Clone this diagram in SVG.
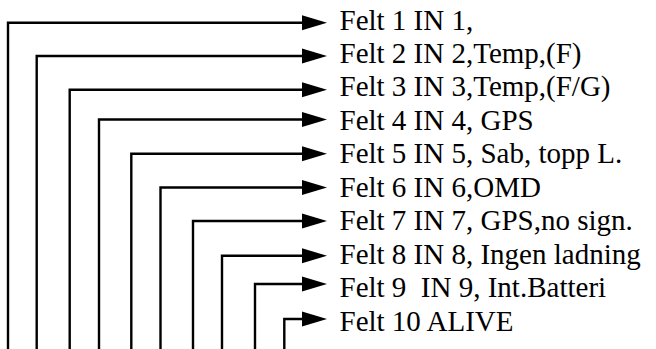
<svg xmlns="http://www.w3.org/2000/svg" width="656" height="349" viewBox="0 0 656 349">
<defs>
<marker id="ah" markerUnits="userSpaceOnUse" markerWidth="26" markerHeight="16" refX="0" refY="7.5" orient="auto" overflow="visible">
<path d="M0,0 L25,7.5 L0,15 Z" fill="#000"/>
</marker>
<style>
.c{fill:none;stroke:#000;stroke-width:2.4;stroke-linejoin:miter;marker-end:url(#ah)}
</style>
</defs>
<rect width="656" height="349" fill="#fff"/>
<g id="connectors">
<path class="c" d="M8,349 V22.7 H302"/>
<path class="c" d="M36.7,349 V56 H302"/>
<path class="c" d="M69.7,349 V89.8 H302"/>
<path class="c" d="M99,349 V119.5 H302"/>
<path class="c" d="M131.3,349 V153.7 H302"/>
<path class="c" d="M160.5,349 V187.5 H302"/>
<path class="c" d="M193,349 V221 H302"/>
<path class="c" d="M222,349 V255.7 H302"/>
<path class="c" d="M255,349 V284 H302"/>
<path class="c" d="M284.3,349 V319 H302"/>
</g>
<g id="labels" font-family="Liberation Serif, Times New Roman, serif" font-size="29" fill="#000">
<g id="felt1"><text x="339.5" y="29.5">Felt 1 IN 1,</text></g>
<g id="felt2"><text x="339.5" y="63">Felt 2 IN 2,Temp,(F)</text></g>
<g id="felt3"><text x="339.5" y="96.4">Felt 3 IN 3,Temp,(F/G)</text></g>
<g id="felt4"><text x="339.5" y="129.8">Felt 4 IN 4, GPS</text></g>
<g id="felt5"><text x="339.5" y="163.3">Felt 5 IN 5, Sab, topp L.</text></g>
<g id="felt6"><text x="339.5" y="196.7">Felt 6 IN 6,OMD</text></g>
<g id="felt7"><text x="339.5" y="230.2">Felt 7 IN 7, GPS,no sign.</text></g>
<g id="felt8"><text x="339.5" y="263.6">Felt 8 IN 8, Ingen ladning</text></g>
<g id="felt9"><text x="339.5" y="297.1" xml:space="preserve">Felt 9  IN 9, Int.Batteri</text></g>
<g id="felt10"><text x="339.5" y="330.5">Felt 10 ALIVE</text></g>
</g>
</svg>
